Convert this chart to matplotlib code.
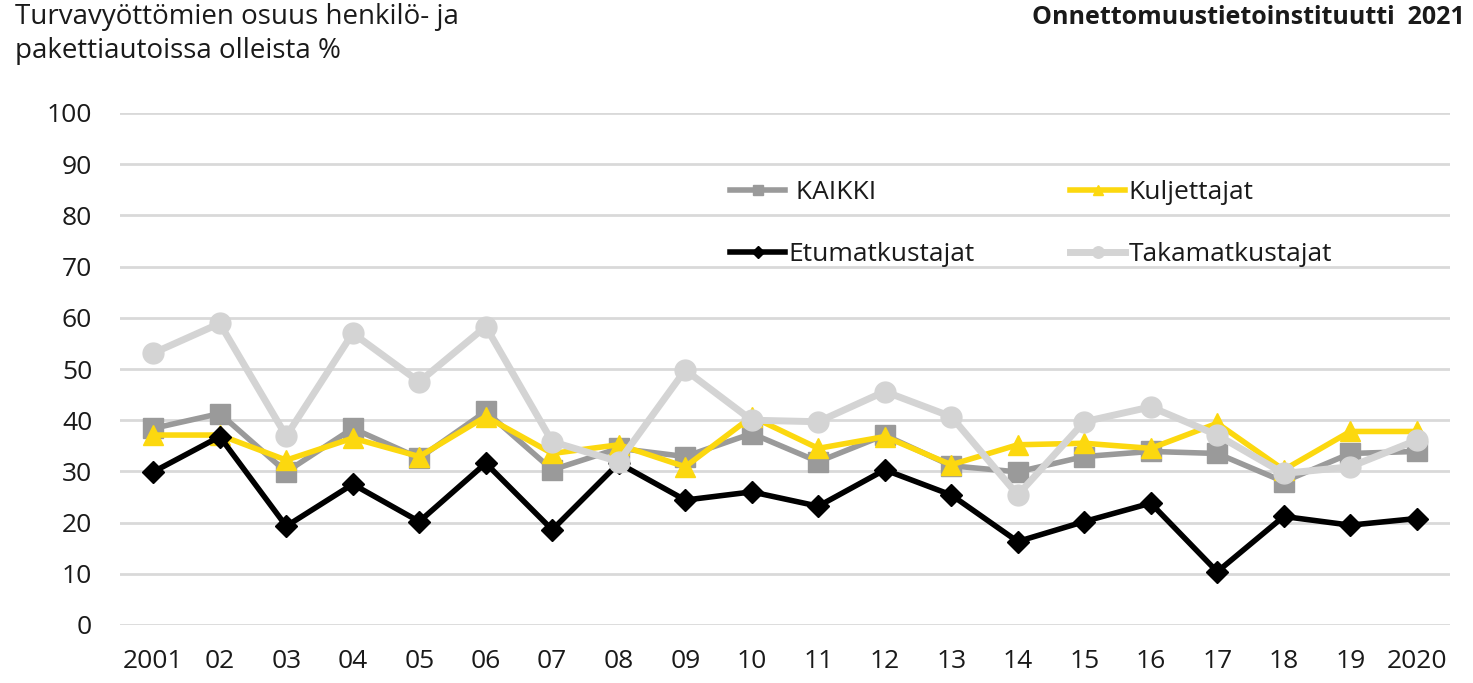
#!/usr/bin/env python3
"""Share of occupants without seatbelt in cars and vans, 2001-2020."""

import matplotlib
matplotlib.use("Agg")
import matplotlib.pyplot as plt
import numpy as np

YEARS = ["2001", "02", "03", "04", "05", "06", "07", "08", "09", "10",
         "11", "12", "13", "14", "15", "16", "17", "18", "19", "2020"]
KAIKKI = [38.4, 41.3, 29.9, 38.4, 32.6, 41.7, 30.3, 34.5, 32.9, 37.4,
          31.9, 37.1, 31.1, 29.9, 32.9, 33.9, 33.5, 28.0, 33.5, 33.9]
KULJETTAJAT = [37.1, 37.1, 32.2, 36.5, 32.9, 40.7, 33.5, 35.2, 30.9, 40.7,
               34.5, 36.8, 31.3, 35.2, 35.5, 34.5, 39.4, 30.3, 37.8, 37.8]
ETUMATKUSTAJAT = [29.9, 36.8, 19.3, 27.5, 20.2, 31.6, 18.6, 31.6, 24.4, 26.0,
                  23.2, 30.3, 25.4, 16.3, 20.2, 23.8, 10.4, 21.2, 19.5, 20.8]
TAKAMATKUSTAJAT = [53.1, 58.9, 36.9, 57.0, 47.5, 58.3, 35.8, 31.9, 49.8, 40.0,
                   39.7, 45.6, 40.7, 25.4, 39.7, 42.6, 37.1, 29.6, 30.9, 36.1]

plt.rcParams["font.family"] = ["Open Sans", "DejaVu Sans"]
TEXT = "#1a1a1a"

fig = plt.figure(figsize=(14.73, 6.83), dpi=100)
ax = fig.add_axes([120 / 1473, 1 - 625 / 683, 1330 / 1473, 512 / 683])

x = np.arange(len(YEARS))
h_kaikki, = ax.plot(x, KAIKKI, color="#9a9a9a", lw=4, marker="s", ms=14,
                    label="KAIKKI", zorder=3)
h_kulj, = ax.plot(x, KULJETTAJAT, color="#fcd80f", lw=4, marker="^", ms=14,
                  label="Kuljettajat", zorder=4)
h_etu, = ax.plot(x, ETUMATKUSTAJAT, color="black", lw=4, marker="D", ms=11,
                 label="Etumatkustajat", zorder=5)
h_taka, = ax.plot(x, TAKAMATKUSTAJAT, color="#d4d4d4", lw=5, marker="o", ms=15,
                  label="Takamatkustajat", zorder=6)

ax.set_xlim(-0.5, len(YEARS) - 0.5)
ax.set_ylim(0, 100)
ax.set_yticks(range(0, 101, 10))
ax.set_xticks(x)
ax.set_xticklabels(YEARS)
ax.tick_params(axis="both", length=0, labelsize=19, colors=TEXT)
ax.tick_params(axis="y", pad=20)
ax.tick_params(axis="x", pad=17)
ax.yaxis.grid(True, color="#d9d9d9", lw=2)
ax.set_axisbelow(True)
for s in ax.spines.values():
    s.set_visible(False)

# two single-column legends so each column sits where it does in the original
leg_kw = dict(frameon=False, fontsize=19, loc="center left", handlelength=2.1,
              markerscale=0.55, labelspacing=1.39, handletextpad=0.12,
              borderpad=0, borderaxespad=0)
leg_y = 1 - 223.5 / 683
leg1 = fig.legend([h_kaikki, h_etu], [" KAIKKI", "Etumatkustajat"],
                  bbox_to_anchor=(730 / 1473, leg_y), **leg_kw)
leg2 = fig.legend([h_kulj, h_taka], ["Kuljettajat", "Takamatkustajat"],
                  bbox_to_anchor=(1070 / 1473, leg_y), **leg_kw)
for leg in (leg1, leg2):
    for t in leg.get_texts():
        t.set_color(TEXT)

fig.text(15 / 1473, 1 - 3 / 683,
         "Turvavyöttömien osuus henkilö- ja\npakettiautoissa olleista %",
         ha="left", va="top", fontsize=20, color=TEXT, linespacing=1.3)
fig.text(1465 / 1473, 1 - 5 / 683, "Onnettomuustietoinstituutti  2021",
         ha="right", va="top", fontsize=18, fontweight="bold", color=TEXT)

fig.savefig("out.png", dpi=100)
